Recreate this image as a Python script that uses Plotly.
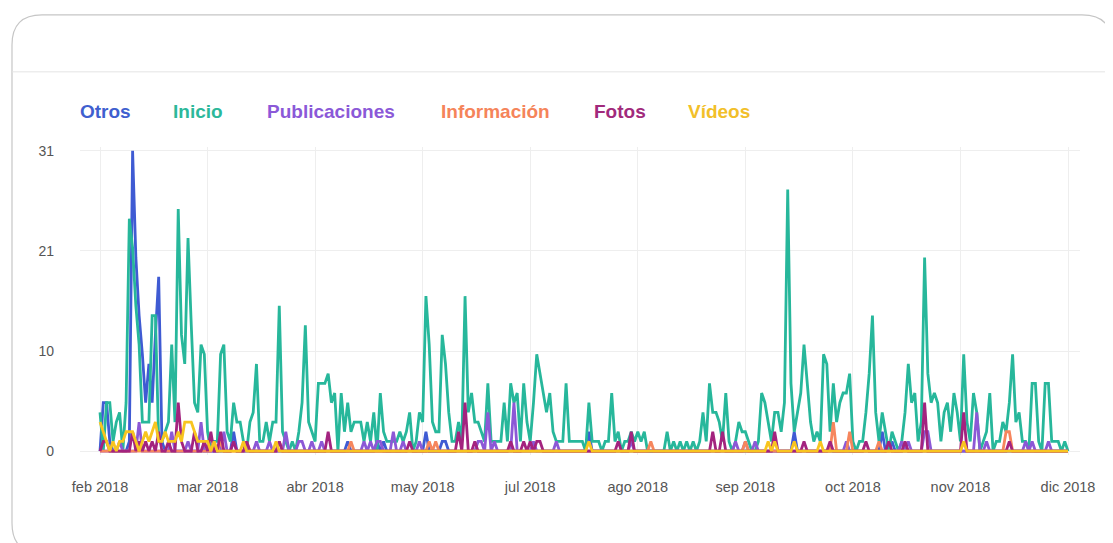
import pandas as pd
import plotly.graph_objects as go

# ---------------- data (daily counts) ----------------
start_date = "2018-02-20"
n_days = 298

inicio = [
    4, 0, 5, 5, 1, 3, 4, 0, 5, 24,
    21, 15, 11, 3, 3, 3, 14, 14, 1, 1,
    2, 3, 11, 3, 25, 12, 9, 22, 13, 5,
    4, 11, 10, 2, 0, 1, 1, 10, 11, 2,
    1, 5, 3, 3, 1, 0, 3, 4, 9, 1,
    1, 3, 1, 3, 3, 15, 2, 1, 0, 1,
    0, 2, 5, 13, 3, 2, 1, 7, 7, 7,
    8, 5, 6, 0, 6, 2, 5, 2, 3, 3,
    3, 1, 3, 1, 4, 0, 6, 2, 1, 1,
    1, 1, 2, 1, 2, 4, 0, 1, 4, 3,
    16, 11, 3, 2, 2, 12, 9, 4, 1, 1,
    3, 1, 16, 4, 6, 3, 3, 2, 1, 7,
    1, 1, 1, 1, 5, 1, 7, 5, 6, 1,
    7, 3, 1, 5, 10, 8, 6, 4, 6, 2,
    1, 1, 1, 7, 1, 1, 1, 1, 1, 0,
    5, 1, 1, 1, 0, 1, 1, 6, 1, 2,
    0, 1, 1, 2, 1, 2, 1, 2, 0, 0,
    0, 0, 0, 0, 2, 0, 1, 0, 1, 0,
    1, 0, 1, 0, 1, 4, 1, 7, 4, 4,
    3, 1, 6, 1, 0, 1, 3, 2, 2, 1,
    0, 0, 1, 6, 5, 3, 1, 4, 4, 2,
    5, 27, 7, 2, 4, 6, 11, 7, 3, 1,
    2, 1, 10, 9, 2, 7, 3, 5, 6, 6,
    8, 1, 0, 1, 1, 4, 8, 14, 4, 1,
    4, 2, 0, 2, 1, 0, 1, 4, 9, 5,
    6, 1, 3, 20, 8, 5, 6, 5, 1, 4,
    5, 2, 6, 4, 1, 10, 3, 1, 6, 4,
    0, 1, 2, 6, 0, 1, 1, 3, 2, 5,
    10, 3, 4, 1, 1, 0, 7, 7, 1, 0,
    7, 7, 1, 1, 1, 0, 1, 0,
]

# the smaller series are zero on most days; days (offset from start) with a value
otros_dias = [1, 2, 3, 9, 10, 11, 12, 13, 14, 15, 16, 17, 18, 19, 41, 76, 85, 87, 100, 105, 106, 150, 213, 240, 243]
otros_vals = [5, 5, 1, 1, 31, 20, 14, 10, 5, 9, 5, 12, 18, 1, 2, 1, 1, 1, 2, 1, 1, 2, 2, 2, 1]

public_dias = [6, 12, 22, 27, 31, 38, 41, 48, 52, 57, 61, 62, 65, 68, 81, 83, 85, 86, 90, 93, 98,
               116, 117, 119, 121, 127, 133, 140, 163, 195, 198, 201, 229, 246, 248, 253, 254,
               269, 272, 284, 286, 291]
public_vals = [1, 3, 2, 1, 3, 2, 1, 1, 1, 2, 1, 1, 1, 1, 1, 1, 1, 1, 2, 1, 1,
               1, 1, 4, 1, 5, 1, 1, 1, 1, 1, 1, 1, 1, 1, 2, 2,
               4, 1, 1, 1, 1]

info_dias = [35, 37, 45, 55, 77, 101, 103, 169, 198, 225, 230, 239, 265, 278, 279]
info_vals = [1, 1, 1, 1, 1, 1, 1, 1, 1, 3, 2, 1, 1, 2, 2]

fotos_dias = [1, 2, 10, 12, 14, 16, 18, 21, 24, 25, 29, 32, 34, 37, 41, 45, 55, 70, 95, 110, 112,
              115, 126, 130, 132, 134, 135, 159, 163, 188, 191, 207, 216, 224, 235, 242, 247,
              253, 265, 279]
fotos_vals = [1, 1, 2, 1, 1, 1, 2, 1, 5, 1, 2, 1, 2, 2, 1, 1, 1, 2, 1, 2, 5,
              1, 1, 1, 1, 1, 1, 1, 2, 2, 2, 2, 1, 1, 1, 1, 1,
              5, 4, 1]

videos_dias = [0, 1, 2, 4, 6, 7, 8, 9, 10, 11, 13, 14, 15, 16, 17, 18, 19, 20, 21, 22, 23, 24, 25,
               26, 27, 28, 29, 30, 31, 32, 33, 35, 44, 54, 150, 205, 207, 213, 221, 265]
videos_vals = [3, 2, 1, 1, 1, 1, 2, 2, 2, 1, 1, 2, 1, 2, 3, 1, 1, 2, 1, 1, 1, 2, 1,
               3, 3, 3, 2, 1, 1, 1, 1, 1, 1, 1, 1, 1, 1, 1, 1, 1]

series_names = ["Otros", "Inicio", "Publicaciones", "Información", "Fotos", "Vídeos"]
series_colors = ["#3f5bd3", "#27b79b", "#8c58d6", "#f6865d", "#a3237f", "#f8c51f"]
legend_colors = ["#3f5fcf", "#2cb89a", "#8b59d8", "#f5845a", "#a12a7c", "#f2bf2a"]

tick_labels = ["feb 2018", "mar 2018", "abr 2018", "may 2018", "jul 2018",
               "ago 2018", "sep 2018", "oct 2018", "nov 2018", "dic 2018"]
tick_step_days = 33
y_tick_vals = [0, 31 / 3, 62 / 3, 31]
y_tick_text = ["0", "10", "21", "31"]


def dense(days, vals):
    out = [0] * n_days
    for d, v in zip(days, vals):
        out[d] = v
    return out


dates = pd.date_range(start_date, periods=n_days, freq="D")
series_values = [
    dense(otros_dias, otros_vals),
    inicio,
    dense(public_dias, public_vals),
    dense(info_dias, info_vals),
    dense(fotos_dias, fotos_vals),
    dense(videos_dias, videos_vals),
]

# ---------------- layout geometry ----------------
# the page body has an 8px default margin, so the figure is placed 8px in
OFF = 8
W, H = 1113 - OFF, 543 - OFF
PLOT_L, PLOT_R, PLOT_T, PLOT_B = 80, 1080, 147.1, 454.9   # window pixels
ML, MR = PLOT_L - OFF, (1113 - OFF) - (PLOT_R - OFF)
MT, MB = PLOT_T - OFF, (543 - OFF) - (PLOT_B - OFF)
PW, PH = W - ML - MR, H - MT - MB


def px(x):
    return (x - OFF - ML) / PW


def py(y):
    return (H - MB - (y - OFF)) / PH


fig = go.Figure()
for name, vals, col in zip(series_names, series_values, series_colors):
    fig.add_trace(go.Scatter(
        x=dates, y=vals, name=name, mode="lines",
        line=dict(color=col, width=2.8, shape="linear"),
        showlegend=False, hoverinfo="x+y+name",
    ))

tick_vals = [dates[i * tick_step_days] for i in range(len(tick_labels))]
x_lo = dates[0] - pd.Timedelta(days=6.14)
x_hi = dates[-1] + pd.Timedelta(days=3.68)

# card outline with rounded corners (window pixel coordinates)
L, T, R, B, r = 12, 15, 1112, 553, 30
pts = [("M", L, T + r), ("Q", L, T, L + r, T), ("L", R - r, T), ("Q", R, T, R, T + r),
       ("L", R, B - r), ("Q", R, B, R - r, B), ("L", L + r, B), ("Q", L, B, L, B - r)]
path = ""
for p in pts:
    cmd = p[0]
    coords = p[1:]
    s = []
    for i in range(0, len(coords), 2):
        s.append(f"{px(coords[i]):.5f},{py(coords[i + 1]):.5f}")
    path += cmd + " " + " ".join(s) + " "
path += "Z"

shapes = [
    dict(type="path", path=path, xref="paper", yref="paper",
         line=dict(color="#c6c6c6", width=1.2), fillcolor="rgba(0,0,0,0)", layer="below"),
    dict(type="line", xref="paper", yref="paper", x0=px(L), x1=px(R), y0=py(72), y1=py(72),
         line=dict(color="#e4e4e4", width=1), layer="below"),
    dict(type="circle", xref="paper", yref="paper", x0=px(1106), x1=px(1120), y0=py(521), y1=py(535),
         line=dict(color="#bdbdbd", width=1), fillcolor="#d9d9d9", layer="below"),
]

legend_x = [105, 198, 331, 495, 620, 719]
annotations = []
for name, col, x in zip(series_names, legend_colors, legend_x):
    annotations.append(dict(
        text=f"<b>{name}</b>", x=px(x), y=py(112), xref="paper", yref="paper",
        xanchor="center", yanchor="middle", showarrow=False,
        font=dict(family="Liberation Sans, Arial, sans-serif", size=19, color=col),
    ))

fig.update_layout(
    width=W, height=H, autosize=False,
    margin=dict(l=ML, r=MR, t=MT, b=MB, pad=0),
    paper_bgcolor="white", plot_bgcolor="white",
    showlegend=False,
    shapes=shapes, annotations=annotations,
    font=dict(family="Liberation Sans, Arial, sans-serif", size=14, color="#555555"),
    xaxis=dict(
        type="date", range=[x_lo, x_hi],
        tickmode="array", tickvals=tick_vals, ticktext=tick_labels,
        showgrid=True, gridcolor="#eeeeee", gridwidth=1,
        zeroline=False, showline=False, ticks="",
        ticklabelstandoff=21,
        tickfont=dict(size=14.5, color="#555555"),
        fixedrange=True,
    ),
    yaxis=dict(
        range=[-0.4, 31.4],
        tickmode="array", tickvals=y_tick_vals, ticktext=y_tick_text,
        showgrid=True, gridcolor="#eeeeee", gridwidth=1,
        zeroline=False, showline=False, ticks="",
        ticklabelstandoff=25,
        tickfont=dict(size=14, color="#555555"),
        fixedrange=True,
    ),
)

fig.write_html("out.html", config={"displayModeBar": False})
